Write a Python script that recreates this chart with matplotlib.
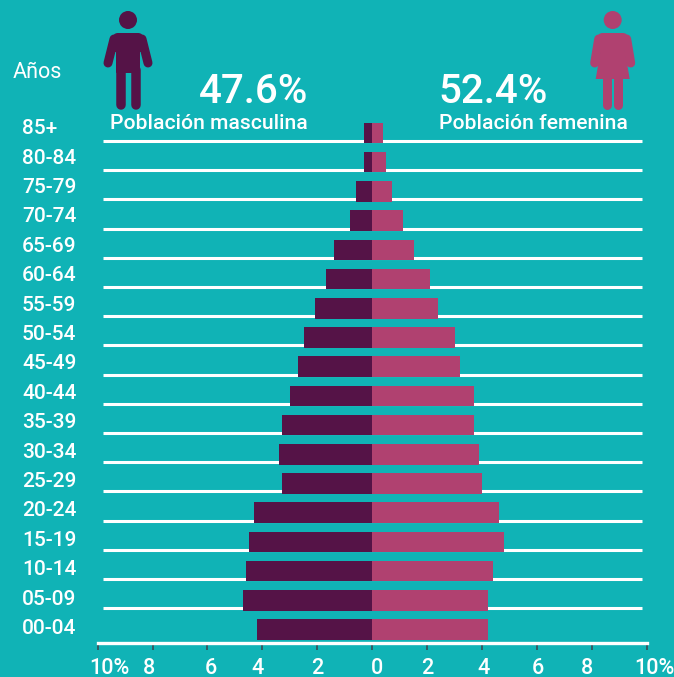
import matplotlib
matplotlib.use("Agg")
import matplotlib.pyplot as plt
import numpy as np
from matplotlib.patches import Circle, FancyBboxPatch, Polygon

plt.rcParams['font.family'] = ['Roboto', 'DejaVu Sans']

BG = "#10B3B6"
MALE = "#551347"
FEMALE = "#B04170"

age_groups = ["00-04", "05-09", "10-14", "15-19", "20-24", "25-29", "30-34", "35-39", "40-44",
              "45-49", "50-54", "55-59", "60-64", "65-69", "70-74", "75-79", "80-84", "85+"]
male = [4.2, 4.7, 4.6, 4.5, 4.3, 3.3, 3.4, 3.3, 3.0, 2.7, 2.5, 2.1, 1.7, 1.4, 0.8, 0.6, 0.3, 0.3]
female = [4.2, 4.2, 4.4, 4.8, 4.6, 4.0, 3.9, 3.7, 3.7, 3.2, 3.0, 2.4, 2.1, 1.5, 1.1, 0.7, 0.5, 0.4]
xticks = [-10, -8, -6, -4, -2, 0, 2, 4, 6, 8, 10]
xtick_labels = ["10%", "8", "6", "4", "2", "0", "2", "4", "6", "8", "10%"]
xtick_label_px = [109, 149, 211, 258, 317, 377, 427, 483, 538, 587, 654]

W, H = 674, 677
fig = plt.figure(figsize=(W / 100, H / 100), dpi=100, facecolor=BG)

# main axes, placed so that -10..10 and the rows land where they do in the picture
ax = fig.add_axes([97.6 / W, (H - 643) / H, (647 - 97.6) / W, (643 - 110) / H])
ax.patch.set_alpha(0)
ax.set_xlim(-10, 10)
ax.set_ylim(-0.462, 17.79)

y = np.arange(len(age_groups))
ax.hlines(y[1:] - 0.27, -9.8, 9.8, color="white", lw=2.2, zorder=1)
ax.barh(y, -np.array(male), height=0.7, color=MALE, zorder=2)
ax.barh(y, female, height=0.7, color=FEMALE, zorder=2)

for s in ["top", "left", "right"]:
    ax.spines[s].set_visible(False)
ax.spines["bottom"].set_color("white")
ax.spines["bottom"].set_linewidth(2.4)
ax.set_yticks([])
ax.set_xticks(xticks)
ax.set_xticklabels([])
ax.tick_params(axis="x", color="#3c4a55", length=5, width=1.2)

# pixel overlay for texts and the two figures
px = fig.add_axes([0, 0, 1, 1])
px.set_xlim(0, W)
px.set_ylim(H, 0)
px.axis("off")
px.patch.set_alpha(0)

for lab, lx in zip(xtick_labels, xtick_label_px):
    px.text(lx, 668, lab, color="white", fontsize=15.5, weight="medium", ha="center", va="center")

for i, lab in enumerate(age_groups):
    px.text(22, 628.5 - i * 29.4, lab, color="white", fontsize=15, weight="medium", ha="left", va="center")

px.text(13, 72, "Años", color="white", fontsize=15.5, ha="left", va="center")
px.text(254, 103, "47.6%", color="white", fontsize=29, weight="medium", ha="center", va="baseline")
px.text(493, 103, "52.4%", color="white", fontsize=29, weight="medium", ha="center", va="baseline")
px.text(209, 129, "Población masculina", color="white", fontsize=15.2, weight="medium", ha="center", va="baseline")
px.text(533, 129, "Población femenina", color="white", fontsize=15.2, weight="medium", ha="center", va="baseline")


def limb(x0, y0, x1, y1, color, width):
    px.plot([x0, x1], [y0, y1], color=color, lw=width * 0.72, solid_capstyle="round")


# man
cx = 128
px.add_patch(Circle((cx, 20), 9, color=MALE, lw=0))
px.add_patch(FancyBboxPatch((cx - 12, 37), 24, 36, boxstyle="round,pad=0,rounding_size=1", color=MALE, lw=0))
px.add_patch(FancyBboxPatch((cx - 15, 33), 30, 12, boxstyle="round,pad=0,rounding_size=5", color=MALE, lw=0))
px.add_patch(Polygon([(cx - 17, 40), (cx + 17, 40), (cx + 13, 52), (cx - 13, 52)], color=MALE, lw=0))
limb(cx - 14, 39, cx - 20, 63, MALE, 9)
limb(cx + 14, 39, cx + 20, 63, MALE, 9)
limb(cx - 7.5, 70, cx - 7.5, 105, MALE, 9.5)
limb(cx + 7.5, 70, cx + 7.5, 105, MALE, 9.5)

# woman
cx = 612.7
px.add_patch(Circle((cx, 20), 9, color=FEMALE, lw=0))
px.add_patch(FancyBboxPatch((cx - 15, 33), 30, 12, boxstyle="round,pad=0,rounding_size=5", color=FEMALE, lw=0))
px.add_patch(Polygon([(cx - 16, 40), (cx + 16, 40), (cx + 12, 50), (cx + 17, 79), (cx - 17, 79), (cx - 12, 50)],
                     color=FEMALE, lw=0))
limb(cx - 14, 39, cx - 18, 63, FEMALE, 9)
limb(cx + 14, 39, cx + 18, 63, FEMALE, 9)
limb(cx - 5.5, 75, cx - 5.5, 105, FEMALE, 9)
limb(cx + 5.5, 75, cx + 5.5, 105, FEMALE, 9)

plt.savefig("out.png", dpi=100, facecolor=BG)
